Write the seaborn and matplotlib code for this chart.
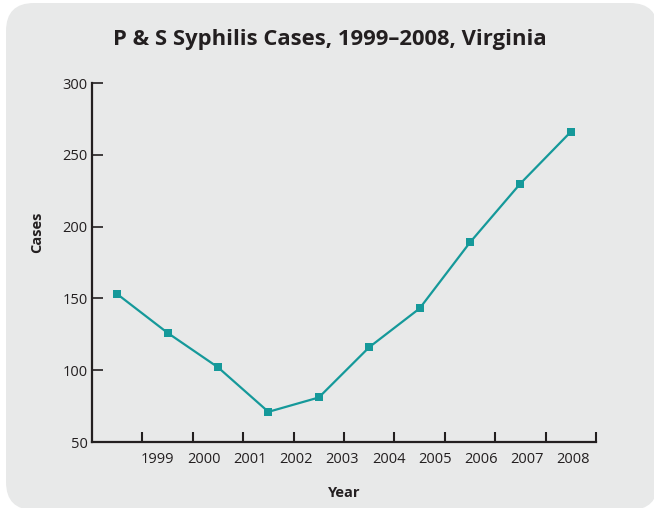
import numpy as np
import pandas as pd
import matplotlib
matplotlib.use('Agg')
import matplotlib.pyplot as plt
from matplotlib.patches import FancyBboxPatch
import seaborn as sns

years = ['1999', '2000', '2001', '2002', '2003', '2004', '2005', '2006', '2007', '2008']
cases = [153, 126, 102, 71, 81, 116, 143, 189, 230, 266]
y_ticks = [50, 100, 150, 200, 250, 300]

data = pd.DataFrame({'pos': np.arange(len(years)), 'Cases': cases})

sns.set_style('ticks')
plt.rcParams['font.family'] = ['Open Sans', 'DejaVu Sans']

fig = plt.figure(figsize=(6.54, 5.08), dpi=100)
# rounded grey panel, in inches so the corners stay circular
bg = FancyBboxPatch((0.06, -0.02), 6.52, 5.07,
                    boxstyle='round,pad=0,rounding_size=0.28',
                    transform=fig.dpi_scale_trans, facecolor='#e8e9e9',
                    edgecolor='none', zorder=-5)
fig.patches.append(bg)

ax = fig.add_axes([92 / 654, 1 - 442 / 508, 504 / 654, 359 / 508])
ax.set_facecolor('none')
sns.lineplot(data=data, x='pos', y='Cases', ax=ax, color='#15999a',
             marker='s', markersize=5.5, markeredgewidth=0, linewidth=1.6)

ax.set_xlim(-0.5, len(years) - 0.5)
ax.set_ylim(50, 300)
ax.set_yticks(y_ticks)
ax.set_xticks(np.arange(len(years)) + 0.5)
ax.set_xticklabels([])
# year labels sit slightly off the points in the original
label_pos = 0.8 + np.arange(len(years)) * (8.25 / 9)
ax.set_xticks(label_pos, minor=True)
ax.set_xticklabels(years, minor=True)
ax.tick_params(axis='x', which='minor', length=0, pad=7, labelsize=10.5, colors='#231f20')
ax.tick_params(axis='x', which='major', direction='in', length=7, width=1.5, color='#231f20')
ax.tick_params(axis='y', direction='in', length=8, width=1.2, color='#231f20',
               labelsize=10.5, labelcolor='#231f20', pad=3)

for s in ['top', 'right']:
    ax.spines[s].set_visible(False)
for s in ['left', 'bottom']:
    ax.spines[s].set_linewidth(1.6)
    ax.spines[s].set_color('#231f20')

ax.set_xlabel('Year', fontsize=10.5, fontweight='bold', color='#231f20', labelpad=14)
ax.set_ylabel('Cases', fontsize=10.5, fontweight='bold', color='#231f20')
ax.yaxis.set_label_coords(-0.095, 0.585)
fig.text(0.505, 1 - 39 / 508, 'P & S Syphilis Cases, 1999\u20132008, Virginia',
         ha='center', va='center', fontsize=15.8, fontweight='bold', color='#231f20')

fig.savefig('out.png', dpi=100)
